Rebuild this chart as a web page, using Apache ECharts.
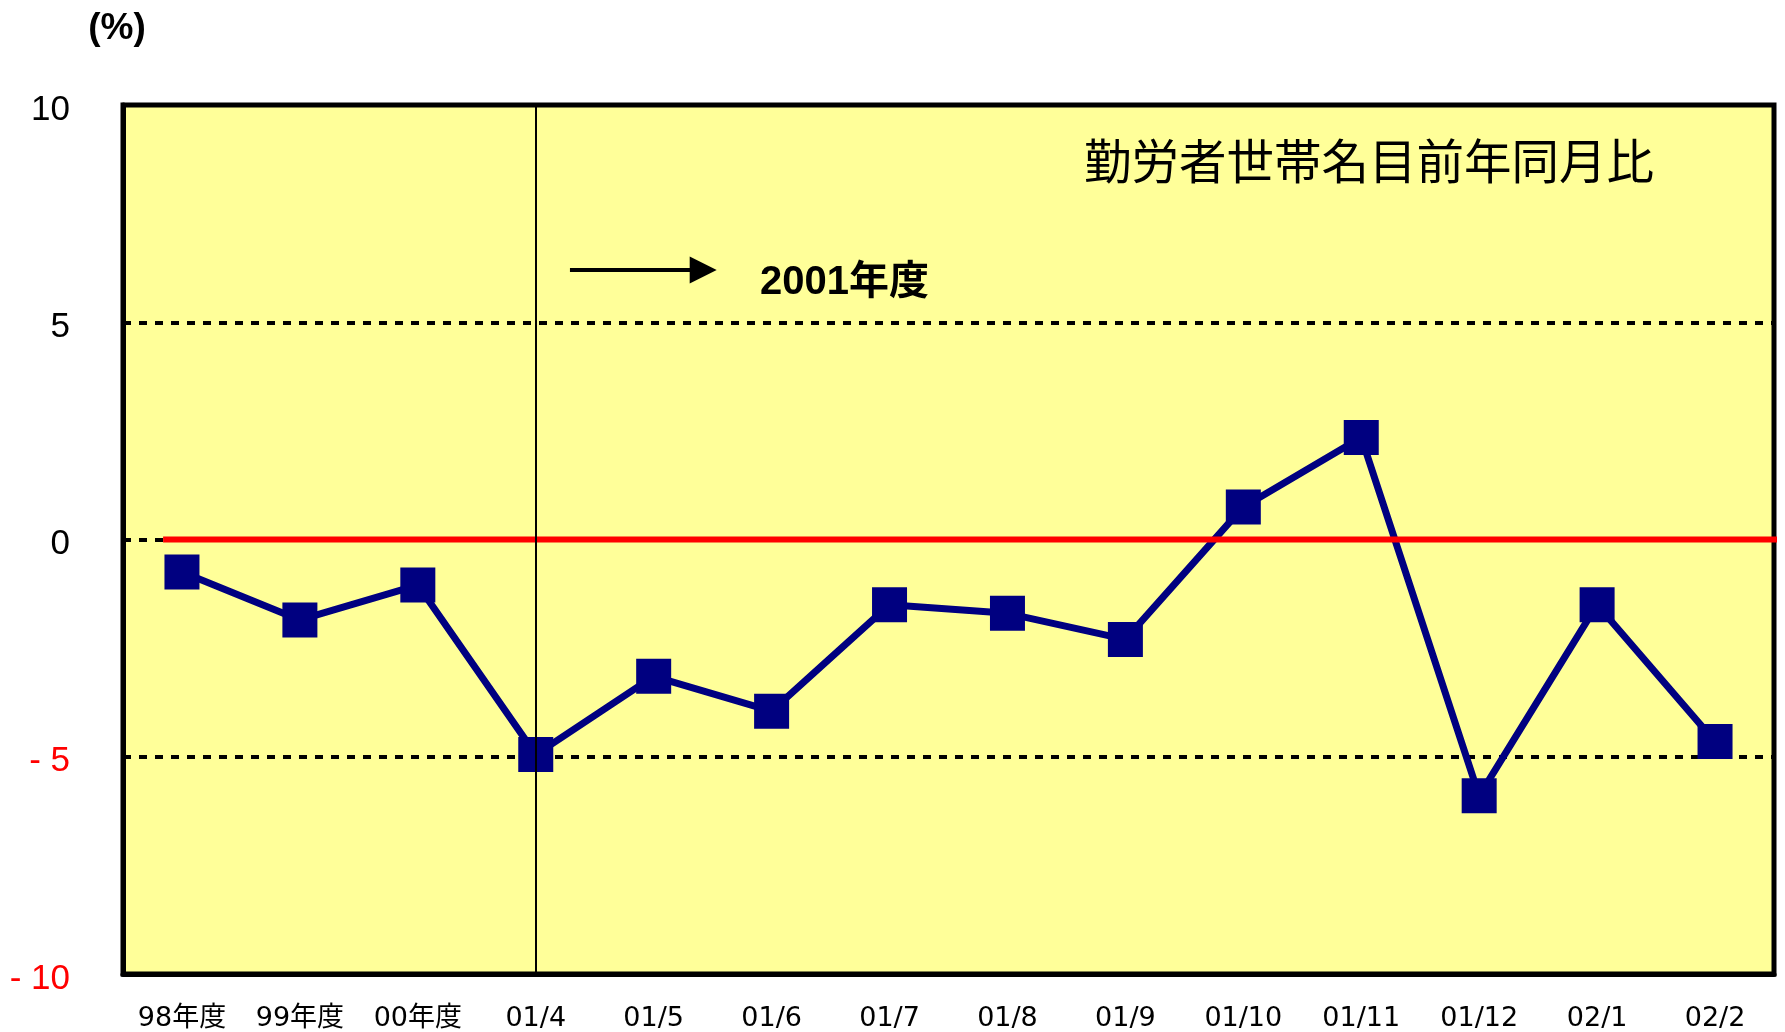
<!DOCTYPE html>
<html>
<head>
<meta charset="utf-8">
<script src="https://cdn.jsdelivr.net/npm/echarts@6/dist/echarts.min.js"></script>
<style>
html, body { margin: 0; padding: 0; background: #fff; }
#chart { width: 1785px; height: 1032px; }
</style>
</head>
<body>
<div id="chart"></div>
<script>
// data
const categories = ['98年度', '99年度', '00年度', '01/4', '01/5', '01/6', '01/7', '01/8', '01/9', '01/10', '01/11', '01/12', '02/1', '02/2']
const yoyValues = [-0.75, -1.85, -1.05, -4.95, -3.15, -3.95, -1.5, -1.7, -2.3, 0.75, 2.35, -5.9, -1.5, -4.65]
const yTicks = [-10, -5, 0, 5, 10]
// reference line at 0 and the "2001年度" arrow, in axis units (x = category slots)
const zeroLine = [[0.34, 0], [14.1, 0]]
const arrowLine = [[3.79, 6.2], [4.92, 6.2]]
const fiscalStart = '01/4'

const latinCjk = '"Liberation Sans", "Noto Sans CJK JP", sans-serif'
const wideCjk = '"DejaVu Sans", "Noto Sans CJK JP", sans-serif'

const chart = echarts.init(document.getElementById('chart'))

const option = {
  animation: false,
  grid: {
    left: 123,
    right: 11,
    top: 105,
    bottom: 57,
    show: true,
    backgroundColor: '#FFFF99',
    borderColor: '#000',
    borderWidth: 5,
  },
  xAxis: [
    {
      type: 'category',
      data: categories,
      boundaryGap: true,
      axisLine: { onZero: false, lineStyle: { color: '#000', width: 5 } },
      axisTick: { inside: true, length: 9, lineStyle: { color: '#000', width: 3 } },
      axisLabel: {
        interval: 0,
        margin: 31,
        color: '#000',
        fontSize: 27,
        fontFamily: wideCjk,
      },
      splitLine: { show: false },
    },
    {
      type: 'value',
      min: 0,
      max: categories.length,
      show: false,
    },
  ],
  yAxis: {
    type: 'value',
    min: yTicks[0],
    max: yTicks[yTicks.length - 1],
    interval: yTicks[1] - yTicks[0],
    axisLine: { show: true, lineStyle: { color: '#000', width: 5 } },
    axisTick: { show: false },
    axisLabel: {
      margin: 53,
      fontSize: 35,
      fontFamily: latinCjk,
      verticalAlign: 'top',
      lineHeight: 10,
      formatter: (value) => (value < 0 ? '- ' + Math.abs(value) : String(value)),
      color: (value) => (Number(value) < 0 ? '#FF0000' : '#000'),
    },
    splitLine: {
      lineStyle: { color: '#000', width: 4, type: [8, 8] },
    },
  },
  series: [
    {
      name: '勤労者世帯名目前年同月比',
      type: 'line',
      data: yoyValues,
      symbol: 'rect',
      symbolSize: 35,
      z: 3,
      lineStyle: { color: '#000080', width: 7 },
      itemStyle: { color: '#000080' },
      markLine: {
        silent: true,
        symbol: 'none',
        z: 6,
        label: { show: false },
        lineStyle: { color: '#000', width: 2, type: 'solid' },
        data: [{ xAxis: fiscalStart }],
      },
    },
    {
      name: 'zero',
      type: 'line',
      xAxisIndex: 1,
      data: zeroLine,
      symbol: 'none',
      clip: false,
      z: 5,
      lineStyle: { color: '#FF0000', width: 6 },
      markLine: {
        silent: true,
        symbol: ['none', 'triangle'],
        symbolSize: 27,
        label: { show: false },
        lineStyle: { color: '#000', width: 4, type: 'solid' },
        data: [[{ coord: arrowLine[0] }, { coord: arrowLine[1] }]],
      },
    },
  ],
  graphic: [
    {
      type: 'text',
      x: 117,
      y: 29,
      style: {
        text: '(%)',
        font: 'bold 37px ' + latinCjk,
        fill: '#000',
        align: 'center',
        verticalAlign: 'middle',
      },
    },
    {
      type: 'text',
      x: 1084,
      y: 161,
      z: 10,
      style: {
        text: '勤労者世帯名目前年同月比',
        font: '47.5px "Noto Sans CJK JP", sans-serif',
        fill: '#000',
        align: 'left',
        verticalAlign: 'middle',
      },
    },
    {
      type: 'text',
      x: 760,
      y: 283,
      z: 10,
      style: {
        text: '2001年度',
        font: 'bold 40px ' + latinCjk,
        fill: '#000',
        align: 'left',
        verticalAlign: 'middle',
      },
    },
  ],
}

chart.setOption(option)
window.addEventListener('resize', () => chart.resize())
</script>
</body>
</html>
